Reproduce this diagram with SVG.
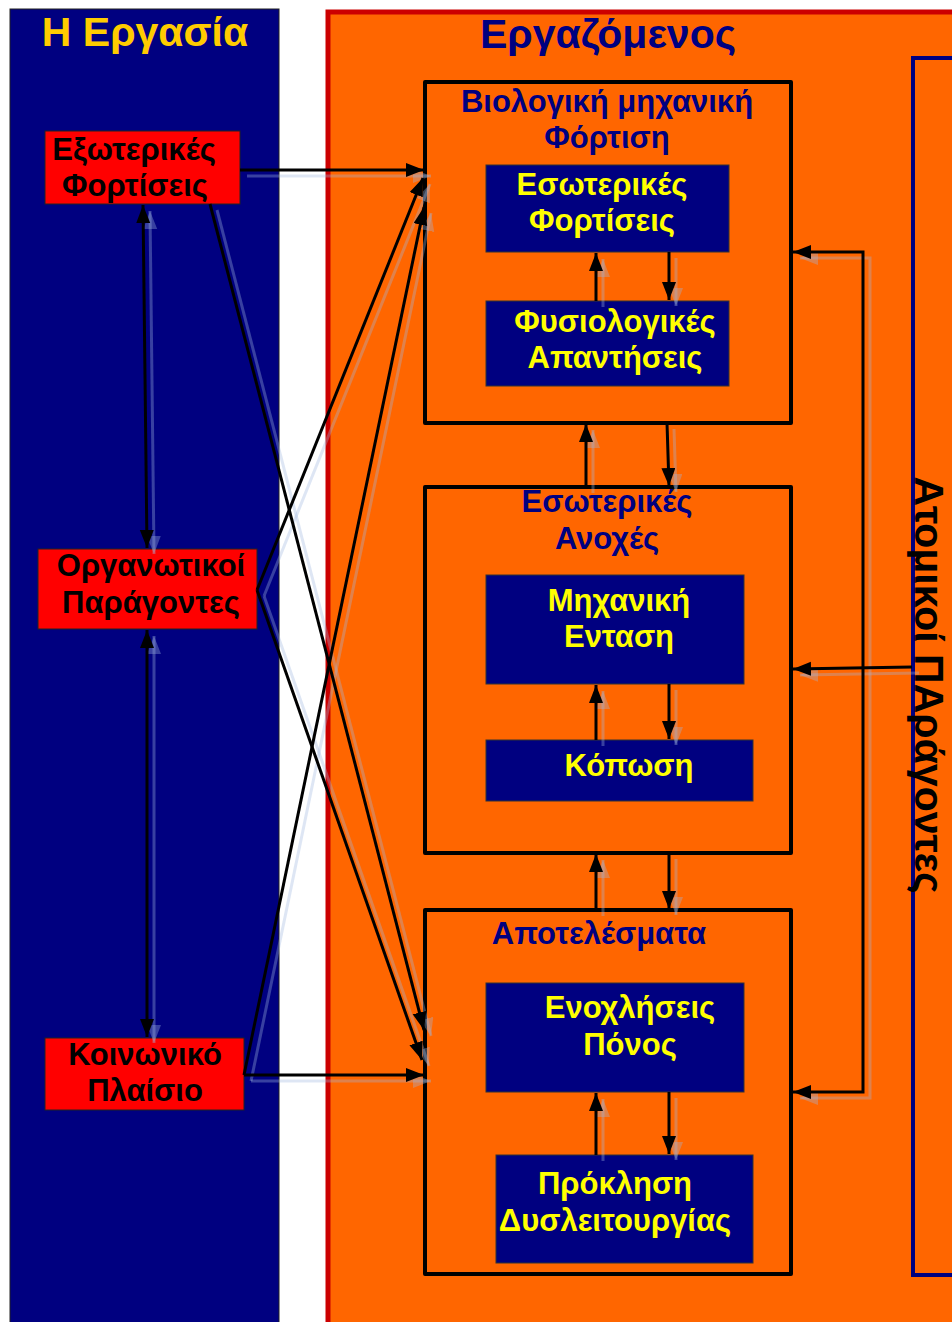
<svg xmlns="http://www.w3.org/2000/svg" width="952" height="1322" viewBox="0 0 952 1322">
<style>
text{font-family:"Liberation Sans",Arial,"DejaVu Sans",sans-serif;font-weight:bold;text-anchor:middle}
.ttl{font-size:41px}
.lbl{font-size:31px}
.blk{fill:#000}
.nav{fill:#000080}
.yel{fill:#FFFF00}
.red{fill:#FF0000;stroke:#222;stroke-width:1}
.inner{fill:#000080;stroke:#333;stroke-width:1}
.grp{fill:#FF6600;stroke:#000;stroke-width:4;stroke-linejoin:round}
.c{fill:none;stroke:#000;stroke-width:3;marker-end:url(#ah)}
.cs{fill:none;stroke:#A0B8E0;stroke-opacity:0.35;stroke-width:3;marker-end:url(#ahs)}
</style>
<defs>
<marker id="ah" markerUnits="userSpaceOnUse" markerWidth="20" markerHeight="16" refX="18" refY="7" orient="auto">
<path d="M0,0 L18,7 L0,14 z" fill="#000"/>
</marker>
<marker id="ahs" markerUnits="userSpaceOnUse" markerWidth="20" markerHeight="16" refX="18" refY="7" orient="auto">
<path d="M0,0 L18,7 L0,14 z" fill="#A0B8E0" fill-opacity="0.35"/>
</marker>
</defs>
<rect width="952" height="1322" fill="#fff"/>
<g id="panel-ergasia">
<rect x="10" y="9" width="269" height="1320" fill="#000080" stroke="#222" stroke-width="1"/>
<text x="145" y="46" class="ttl" fill="#FFCC00">Η Εργασία</text>
</g>
<g id="panel-ergazomenos">
<rect x="328" y="12" width="640" height="1320" fill="#FF6600" stroke="#CC0000" stroke-width="5"/>
<text x="608" y="48" class="ttl nav">Εργαζόμενος</text>
</g>
<g id="atomikoi">
<rect x="913" y="58" width="60" height="1217" fill="none" stroke="#000080" stroke-width="4"/>
<text transform="translate(915,685) rotate(90)" x="0" y="0" class="blk" style="font-size:41px">Ατομικοί ΠΑράγοντες</text>
</g>
<g id="exoterikes">
<rect x="45" y="131" width="195" height="73" class="red"/>
<text x="134" y="160" class="lbl blk">Εξωτερικές</text>
<text x="135" y="196" class="lbl blk">Φορτίσεις</text>
</g>
<g id="organotikoi">
<rect x="38" y="549" width="219" height="80" class="red"/>
<text x="151" y="576" class="lbl blk">Οργανωτικοί</text>
<text x="151" y="613" class="lbl blk">Παράγοντες</text>
</g>
<g id="koinoniko">
<rect x="45" y="1038" width="199" height="72" class="red"/>
<text x="145" y="1065" class="lbl blk">Κοινωνικό</text>
<text x="145" y="1101" class="lbl blk">Πλαίσιο</text>
</g>
<g id="viologiki">
<rect x="425" y="82" width="366" height="341" class="grp"/>
<text x="607" y="112" class="lbl nav">Βιολογική μηχανική</text>
<text x="607" y="148" class="lbl nav">Φόρτιση</text>
</g>
<g id="anoxes">
<rect x="425" y="487" width="366" height="366" class="grp"/>
<text x="607" y="512" class="lbl nav">Εσωτερικές</text>
<text x="607" y="549" class="lbl nav">Ανοχές</text>
</g>
<g id="apotelesmata">
<rect x="425" y="910" width="366" height="364" class="grp"/>
<text x="599" y="944" class="lbl nav">Αποτελέσματα</text>
</g>
<g id="esoterikes-fortiseis">
<rect x="486" y="165" width="243" height="87" class="inner"/>
<text x="602" y="195" class="lbl yel">Εσωτερικές</text>
<text x="602" y="231" class="lbl yel">Φορτίσεις</text>
</g>
<g id="fysiologikes">
<rect x="486" y="301" width="243" height="85" class="inner"/>
<text x="615" y="332" class="lbl yel">Φυσιολογικές</text>
<text x="615" y="368" class="lbl yel">Απαντήσεις</text>
</g>
<g id="mixaniki">
<rect x="486" y="575" width="258" height="109" class="inner"/>
<text x="619" y="611" class="lbl yel">Μηχανική</text>
<text x="619" y="647" class="lbl yel">Ενταση</text>
</g>
<g id="koposi">
<rect x="486" y="740" width="267" height="61" class="inner"/>
<text x="629" y="776" class="lbl yel">Κόπωση</text>
</g>
<g id="enoxliseis">
<rect x="486" y="983" width="258" height="109" class="inner"/>
<text x="630" y="1018" class="lbl yel">Ενοχλήσεις</text>
<text x="630" y="1055" class="lbl yel">Πόνος</text>
</g>
<g id="proklisi">
<rect x="496" y="1155" width="257" height="108" class="inner"/>
<text x="615" y="1194" class="lbl yel">Πρόκληση</text>
<text x="615" y="1231" class="lbl yel">Δυσλειτουργίας</text>
</g>
<g id="connector-shadows" transform="translate(7,6)">
<path class="cs" d="M240,170 L424,170"/>
<path class="cs" d="M145,376 L143,205"/>
<path class="cs" d="M145,376 L147,548"/>
<path class="cs" d="M147,833 L147,630"/>
<path class="cs" d="M147,833 L147,1037"/>
<path class="cs" d="M210,204 L424,1030"/>
<path class="cs" d="M257,590 L423,178"/>
<path class="cs" d="M257,590 L422,1060"/>
<path class="cs" d="M244,1075 L424,207"/>
<path class="cs" d="M244,1075 L424,1075"/>
<path class="cs" d="M596,301 L596,253"/>
<path class="cs" d="M669,252 L669,300"/>
<path class="cs" d="M586,487 L586,424"/>
<path class="cs" d="M667,423 L669,486"/>
<path class="cs" d="M596,740 L596,685"/>
<path class="cs" d="M669,684 L669,739"/>
<path class="cs" d="M596,910 L596,854"/>
<path class="cs" d="M669,853 L669,909"/>
<path class="cs" d="M596,1155 L596,1093"/>
<path class="cs" d="M669,1092 L669,1154"/>
<path class="cs" d="M912,667 L793,669"/>
<path class="cs" d="M863,670 L863,252 L793,252"/>
<path class="cs" d="M863,670 L863,1092 L793,1092"/>
</g>
<g id="connectors">
<path class="c" d="M240,170 L424,170"/>
<path class="c" d="M145,376 L143,205"/>
<path class="c" d="M145,376 L147,548"/>
<path class="c" d="M147,833 L147,630"/>
<path class="c" d="M147,833 L147,1037"/>
<path class="c" d="M210,204 L424,1030"/>
<path class="c" d="M257,590 L423,178"/>
<path class="c" d="M257,590 L422,1060"/>
<path class="c" d="M244,1075 L424,207"/>
<path class="c" d="M244,1075 L424,1075"/>
<path class="c" d="M596,301 L596,253"/>
<path class="c" d="M669,252 L669,300"/>
<path class="c" d="M586,487 L586,424"/>
<path class="c" d="M667,423 L669,486"/>
<path class="c" d="M596,740 L596,685"/>
<path class="c" d="M669,684 L669,739"/>
<path class="c" d="M596,910 L596,854"/>
<path class="c" d="M669,853 L669,909"/>
<path class="c" d="M596,1155 L596,1093"/>
<path class="c" d="M669,1092 L669,1154"/>
<path class="c" d="M912,667 L793,669"/>
<path class="c" d="M863,670 L863,252 L793,252"/>
<path class="c" d="M863,670 L863,1092 L793,1092"/>
</g>
</svg>
